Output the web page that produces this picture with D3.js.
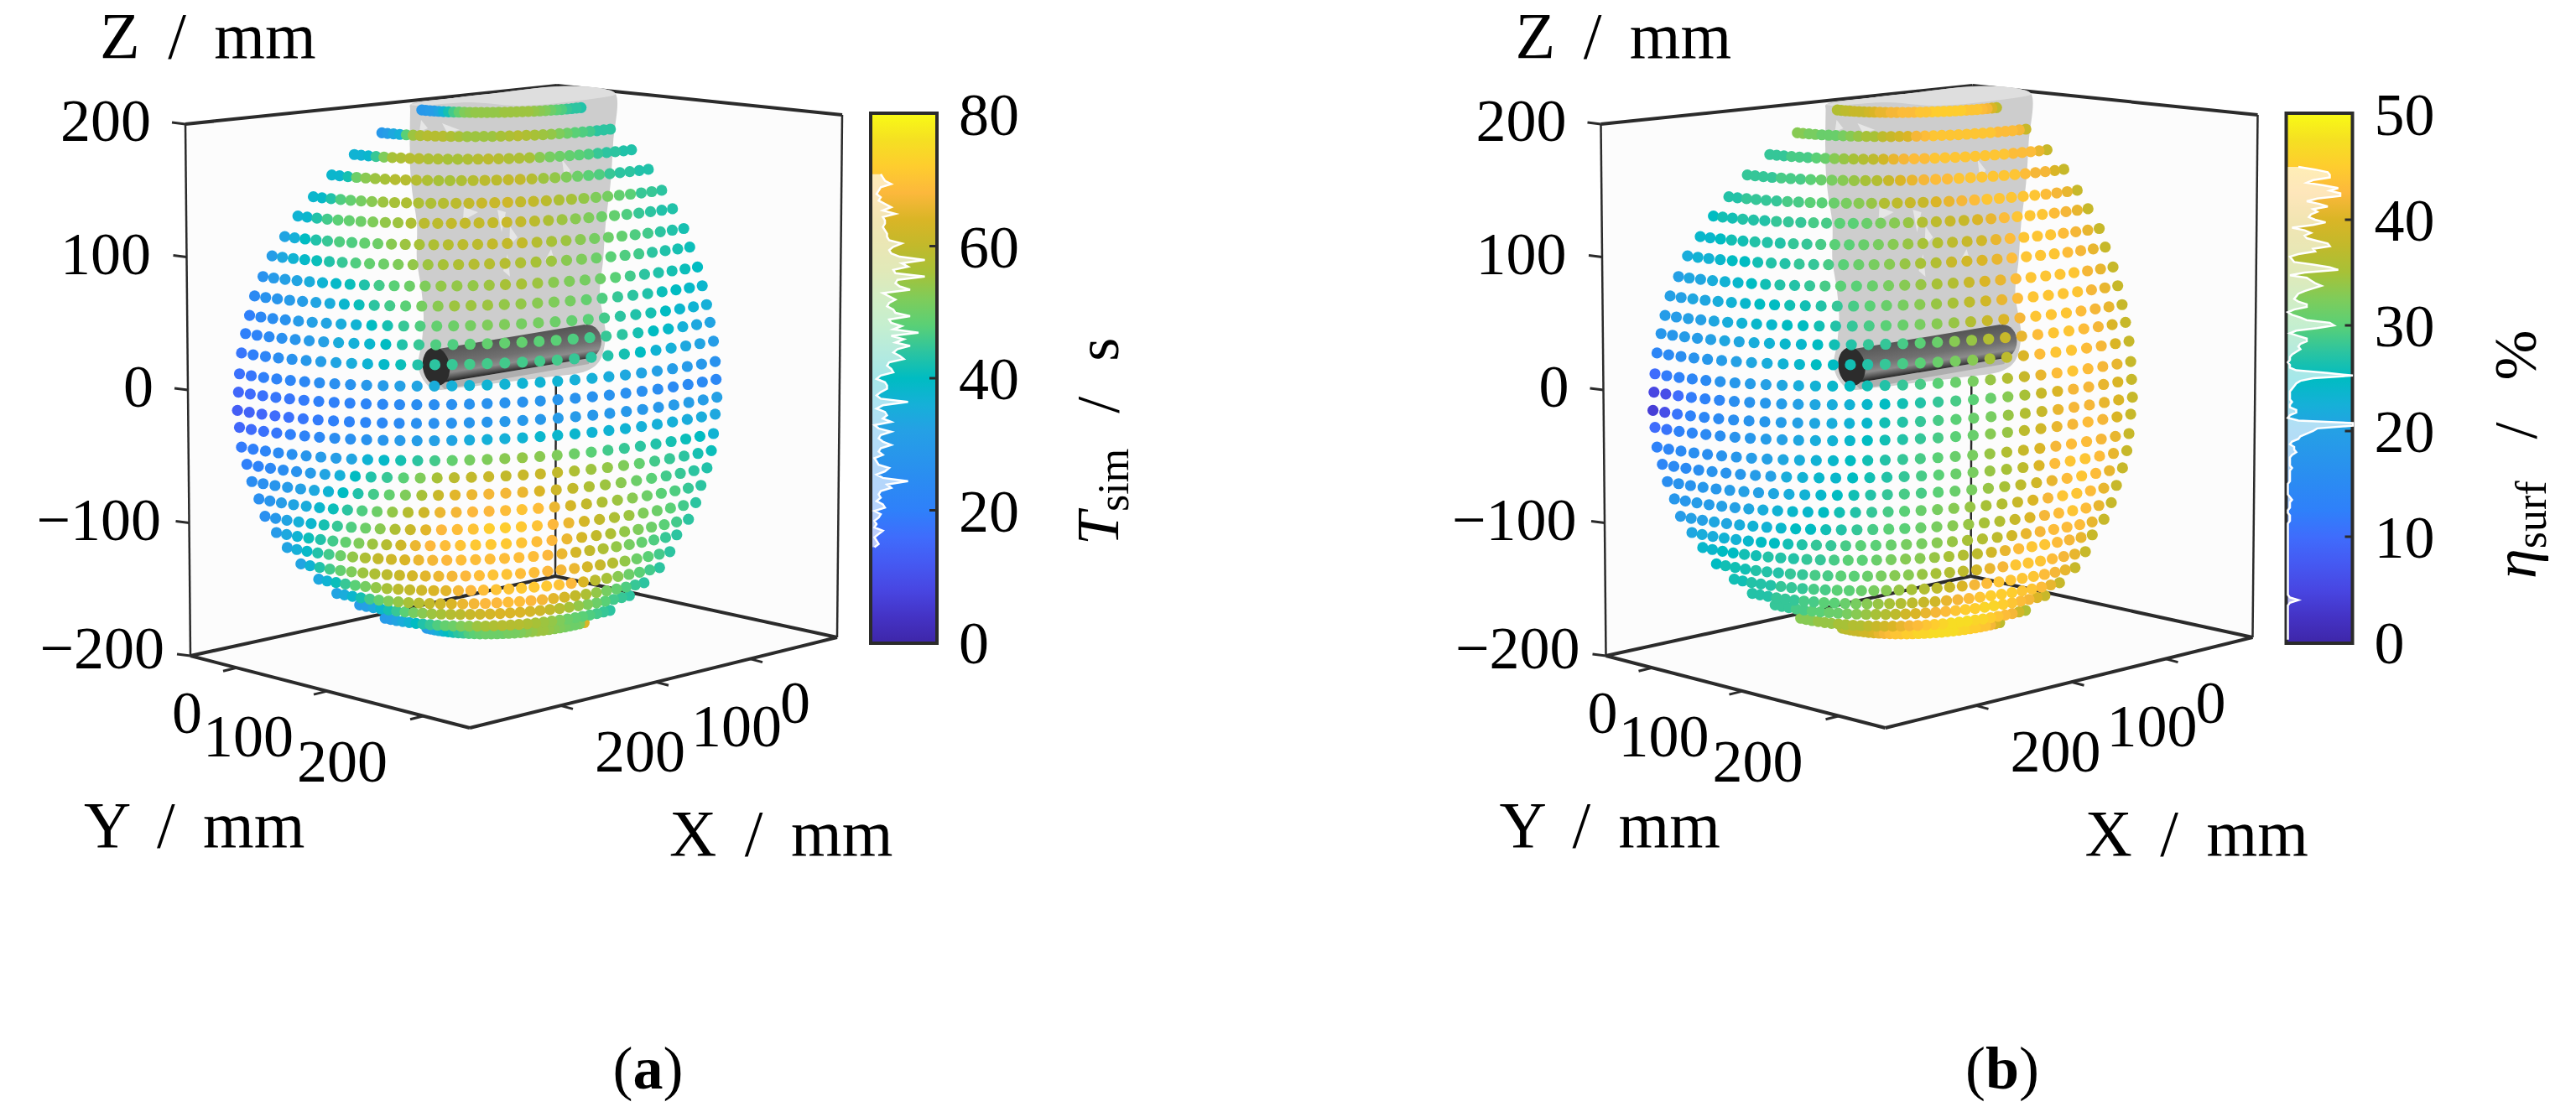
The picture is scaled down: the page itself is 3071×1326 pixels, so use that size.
<!DOCTYPE html>
<meta charset="utf-8">
<style>
	body {
		margin: 0;
		background: #fff;
	}

	text {
		font-family: "Liberation Serif", serif;
		font-size: 72px;
		fill: #000;
	}

	.axlabel {
		font-size: 78px;
		word-spacing: 14px;
	}

	.bartitle {
		word-spacing: 24px;
	}

	.edge {
		fill: none;
		stroke: #2b2b2b;
		stroke-width: 4px;
	}

	.inner {
		stroke-width: 2.5px;
	}

	.tick {
		stroke: #2b2b2b;
		stroke-width: 3px;
	}
</style>

<body>
	<script src="https://d3js.org/d3.v7.min.js"></script>
	<script>
		// rings of the sphere (mm)
		var ringZ = [209, 191, 174, 158, 141, 126, 110, 95, 79, 64, 49, 35, 20, 4, -10, -24, -37, -52, -65, -78, -91, -104, -116, -127, -139, -150, -160, -168, -177, -183];
		var ringRadius = [85, 122, 148, 169, 186, 200, 213, 223, 232, 239, 244, 248, 252, 254, 255, 256, 254, 252, 248, 243, 236, 230, 220, 208, 197, 182, 164, 144, 120, 84];
		var ringShift = [9, 7, 6, 5, 4, 3, 3, 1, 1, 0, 0, 0, 0, 0, 0, 0, 0, 0, 1, 1, 1, 1, 2, 1, 3, 5, 5, 7, 8, 12];

		var tSim = [
			[29, 29, 30, 31, 33, 37, 42, 46, 49, 52, 53, 54, 54, 54, 54, 54, 55, 55, 55, 55, 55, 54, 53, 52, 50, 48, 47, 45, 44, 44, 43],
			[29, 31, 34, 36, 48, 55, 57, 58, 58, 58, 57, 56, 55, 55, 55, 55, 56, 57, 58, 57, 56, 55, 54, 52, 50, 48, 47, 46, 44, 44, 44],
			[37, 37, 38, 45, 52, 56, 57, 58, 58, 57, 57, 56, 56, 57, 58, 59, 58, 57, 57, 56, 53, 51, 50, 49, 48, 47, 45, 44, 44, 43, 43],
			[38, 38, 42, 50, 53, 55, 56, 58, 58, 58, 57, 56, 56, 57, 58, 59, 59, 60, 60, 58, 55, 54, 52, 50, 48, 47, 45, 44, 44, 43, 43],
			[38, 39, 43, 47, 49, 51, 53, 55, 56, 57, 57, 57, 58, 59, 60, 61, 61, 62, 60, 60, 59, 57, 56, 54, 52, 51, 49, 48, 45, 45, 44],
			[37, 38, 43, 46, 48, 49, 50, 52, 54, 55, 57, 59, 59, 60, 60, 60, 60, 61, 60, 59, 57, 55, 53, 52, 50, 49, 47, 45, 44, 43, 43],
			[33, 36, 40, 43, 45, 47, 47, 49, 50, 53, 55, 56, 57, 58, 59, 59, 60, 60, 60, 58, 56, 55, 53, 51, 50, 49, 47, 46, 44, 43, 42],
			[31, 34, 37, 39, 41, 43, 45, 47, 49, 50, 52, 54, 55, 56, 57, 58, 58, 58, 57, 56, 55, 53, 52, 50, 48, 47, 46, 44, 43, 42, 41],
			[27, 30, 32, 33, 35, 37, 39, 41, 43, 46, 48, 50, 52, 54, 54, 54, 55, 56, 56, 55, 53, 52, 51, 50, 48, 46, 44, 43, 42, 41, 40],
			[24, 27, 28, 30, 31, 33, 35, 38, 41, 44, 46, 48, 51, 53, 55, 55, 55, 54, 54, 53, 52, 51, 49, 47, 45, 44, 43, 41, 40, 39, 38],
			[20, 23, 25, 27, 30, 32, 33, 35, 37, 40, 42, 45, 47, 49, 50, 51, 52, 52, 51, 51, 50, 49, 48, 46, 44, 43, 42, 40, 38, 37, 36],
			[20, 21, 24, 26, 28, 30, 32, 35, 36, 38, 40, 43, 45, 47, 47, 48, 49, 49, 49, 48, 48, 47, 46, 45, 44, 42, 40, 39, 36, 34, 33],
			[18, 20, 22, 25, 27, 29, 31, 33, 35, 37, 39, 41, 43, 44, 45, 46, 46, 46, 46, 46, 46, 45, 44, 43, 42, 40, 37, 36, 34, 33, 31],
			[17, 18, 20, 21, 22, 23, 25, 26, 27, 29, 30, 32, 33, 35, 36, 37, 37, 37, 37, 37, 37, 36, 36, 35, 34, 33, 32, 31, 30, 29, 27],
			[15, 16, 17, 18, 18, 19, 20, 20, 21, 22, 23, 24, 25, 25, 26, 27, 27, 27, 27, 28, 28, 27, 27, 27, 26, 26, 25, 24, 24, 24, 23],
			[13, 14, 15, 16, 17, 18, 19, 20, 21, 22, 23, 24, 26, 26, 27, 28, 28, 29, 29, 29, 30, 30, 29, 29, 29, 29, 29, 30, 31, 31, 32],
			[15, 16, 17, 18, 20, 21, 23, 25, 26, 27, 28, 30, 31, 32, 33, 35, 36, 36, 37, 38, 38, 38, 37, 37, 37, 36, 36, 36, 35, 35, 34],
			[19, 20, 22, 24, 26, 28, 30, 31, 33, 37, 39, 42, 44, 46, 49, 51, 52, 53, 54, 53, 52, 50, 48, 46, 45, 44, 43, 42, 41, 40, 37],
			[20, 21, 23, 25, 27, 30, 33, 36, 40, 43, 45, 48, 52, 56, 59, 60, 61, 60, 61, 61, 60, 57, 55, 54, 52, 49, 46, 45, 44, 42, 41],
			[25, 26, 28, 30, 32, 34, 37, 40, 43, 46, 49, 52, 56, 61, 65, 66, 67, 67, 66, 64, 62, 60, 57, 55, 53, 50, 48, 46, 45, 44, 43],
			[26, 28, 31, 33, 35, 38, 41, 44, 47, 50, 54, 58, 62, 66, 67, 68, 68, 69, 70, 69, 66, 63, 60, 57, 55, 53, 50, 48, 47, 45, 44],
			[26, 29, 33, 36, 38, 42, 45, 47, 50, 53, 57, 61, 65, 68, 69, 70, 72, 72, 71, 70, 68, 66, 63, 60, 57, 55, 52, 50, 48, 46, 44],
			[30, 34, 37, 41, 43, 46, 49, 52, 55, 58, 62, 66, 68, 69, 70, 71, 71, 71, 70, 69, 68, 66, 63, 60, 57, 54, 52, 50, 48, 46, 44],
			[33, 36, 39, 43, 46, 50, 54, 57, 60, 62, 64, 66, 67, 68, 69, 69, 69, 69, 69, 69, 68, 66, 63, 60, 57, 54, 51, 49, 47, 45, 44],
			[33, 37, 43, 46, 49, 52, 55, 57, 59, 61, 63, 65, 66, 67, 68, 69, 70, 70, 69, 69, 68, 67, 66, 63, 61, 58, 54, 50, 48, 46, 44],
			[34, 37, 41, 45, 48, 51, 54, 56, 59, 60, 62, 64, 65, 67, 68, 69, 70, 70, 71, 71, 71, 70, 68, 64, 59, 56, 53, 50, 48, 46, 44],
			[33, 35, 38, 42, 46, 49, 52, 54, 56, 58, 60, 62, 64, 66, 67, 68, 68, 69, 69, 68, 67, 65, 63, 60, 57, 54, 51, 49, 47, 45, 44],
			[31, 32, 34, 38, 42, 45, 48, 51, 53, 55, 56, 58, 59, 61, 62, 63, 64, 64, 64, 63, 62, 60, 58, 56, 54, 52, 50, 48, 46, 45, 44],
			[30, 31, 33, 35, 37, 40, 43, 45, 47, 49, 50, 52, 53, 55, 56, 57, 58, 58, 58, 57, 56, 55, 54, 52, 50, 49, 48, 47, 46, 45, 44],
			[30, 32, 34, 36, 38, 40, 42, 44, 45, 47, 48, 49, 50, 50, 50, 50, 51, 51, 52, 53, 54, 55, 55, 54, 53, 52, 51, 50, 50, 52, 64]
		];

		var etaSurf = [
			[36, 36, 37, 37, 38, 38, 38, 39, 40, 41, 41, 42, 42, 43, 43, 43, 44, 44, 45, 45, 45, 45, 45, 45, 44, 44, 44, 43, 42, 40, 37],
			[33, 33, 32, 32, 31, 31, 31, 32, 33, 34, 35, 35, 37, 38, 39, 40, 42, 43, 44, 44, 44, 44, 44, 44, 44, 44, 43, 43, 43, 42, 38],
			[28, 28, 28, 29, 29, 29, 30, 31, 33, 34, 35, 36, 37, 39, 41, 42, 43, 43, 44, 44, 44, 44, 44, 44, 44, 44, 43, 43, 43, 41, 38],
			[28, 28, 28, 28, 29, 29, 29, 30, 31, 32, 33, 34, 35, 36, 38, 40, 41, 42, 43, 43, 44, 44, 44, 44, 44, 44, 43, 42, 42, 40, 38],
			[27, 27, 28, 28, 28, 28, 29, 29, 30, 30, 31, 32, 33, 34, 36, 37, 38, 38, 40, 41, 42, 43, 44, 44, 44, 44, 44, 43, 42, 41, 38],
			[25, 26, 26, 27, 27, 27, 28, 28, 28, 29, 29, 30, 30, 31, 32, 33, 34, 36, 37, 38, 38, 40, 41, 43, 44, 44, 44, 43, 42, 41, 38],
			[24, 24, 25, 26, 26, 27, 27, 27, 28, 28, 29, 30, 30, 31, 32, 33, 34, 35, 36, 37, 38, 39, 41, 43, 44, 44, 44, 43, 42, 41, 38],
			[22, 23, 23, 24, 25, 25, 26, 27, 27, 28, 28, 29, 30, 31, 32, 33, 34, 35, 36, 38, 39, 40, 41, 43, 44, 44, 44, 43, 42, 41, 38],
			[20, 21, 21, 22, 23, 24, 25, 26, 27, 27, 28, 29, 30, 30, 31, 32, 33, 34, 35, 36, 38, 40, 41, 43, 44, 44, 44, 44, 42, 41, 38],
			[20, 20, 21, 21, 22, 23, 24, 25, 25, 26, 26, 27, 28, 29, 30, 31, 32, 33, 34, 35, 37, 39, 41, 43, 44, 44, 44, 44, 42, 41, 38],
			[19, 19, 20, 20, 21, 22, 23, 24, 24, 25, 25, 26, 27, 28, 29, 30, 31, 32, 33, 34, 36, 38, 40, 42, 44, 44, 44, 43, 42, 41, 38],
			[18, 18, 19, 19, 20, 21, 21, 22, 23, 24, 24, 25, 26, 27, 28, 28, 29, 30, 31, 33, 34, 36, 38, 41, 43, 44, 44, 43, 42, 40, 38],
			[14, 15, 16, 17, 18, 19, 20, 21, 22, 23, 24, 25, 25, 26, 27, 28, 29, 30, 31, 32, 33, 35, 37, 40, 43, 44, 44, 43, 42, 40, 38],
			[10, 12, 13, 14, 15, 17, 18, 19, 20, 21, 22, 23, 24, 25, 26, 27, 28, 29, 30, 31, 32, 34, 36, 38, 41, 43, 44, 43, 42, 41, 38],
			[5, 6, 10, 12, 13, 14, 16, 17, 18, 19, 20, 21, 22, 23, 24, 25, 26, 27, 28, 29, 30, 31, 33, 35, 38, 40, 42, 42, 41, 40, 38],
			[4, 6, 11, 13, 14, 15, 16, 17, 18, 19, 20, 21, 22, 23, 24, 26, 27, 28, 29, 30, 31, 32, 34, 36, 38, 41, 42, 42, 41, 40, 38],
			[10, 11, 13, 14, 15, 16, 17, 18, 19, 20, 21, 22, 23, 24, 25, 26, 27, 28, 29, 30, 31, 33, 34, 37, 39, 41, 42, 43, 42, 40, 38],
			[13, 14, 15, 16, 16, 17, 18, 19, 20, 21, 22, 23, 24, 25, 26, 27, 28, 29, 30, 31, 32, 34, 36, 38, 40, 42, 43, 43, 42, 41, 38],
			[14, 15, 15, 16, 17, 17, 18, 19, 20, 22, 23, 24, 24, 25, 26, 27, 28, 29, 30, 31, 32, 34, 35, 37, 40, 43, 44, 44, 43, 41, 38],
			[16, 17, 17, 18, 18, 19, 20, 20, 21, 22, 23, 24, 25, 26, 27, 28, 29, 29, 30, 31, 32, 34, 35, 37, 39, 41, 43, 44, 43, 41, 38],
			[18, 18, 19, 19, 20, 20, 21, 22, 23, 24, 24, 25, 26, 27, 28, 29, 30, 31, 32, 33, 34, 35, 36, 38, 40, 42, 44, 44, 43, 41, 38],
			[19, 20, 20, 21, 21, 22, 23, 23, 24, 25, 25, 26, 27, 28, 29, 30, 30, 31, 32, 33, 34, 35, 36, 38, 40, 42, 43, 44, 43, 41, 38],
			[21, 22, 22, 23, 23, 24, 25, 25, 26, 27, 28, 28, 29, 30, 30, 31, 32, 32, 33, 34, 35, 36, 37, 39, 41, 42, 43, 43, 43, 41, 38],
			[24, 24, 25, 25, 26, 26, 27, 27, 27, 28, 28, 29, 30, 30, 31, 32, 33, 33, 34, 35, 36, 37, 39, 41, 43, 44, 44, 43, 42, 41, 38],
			[25, 26, 26, 26, 27, 27, 27, 28, 28, 29, 29, 30, 30, 31, 32, 33, 33, 34, 35, 36, 37, 39, 41, 42, 44, 44, 44, 43, 42, 41, 38],
			[26, 26, 27, 27, 27, 28, 28, 28, 29, 29, 30, 30, 31, 32, 33, 34, 35, 36, 37, 38, 40, 42, 43, 44, 44, 44, 44, 43, 42, 41, 38],
			[27, 27, 27, 28, 28, 28, 29, 29, 30, 30, 31, 32, 33, 34, 35, 36, 37, 38, 39, 41, 42, 43, 44, 45, 45, 45, 44, 44, 43, 41, 38],
			[28, 28, 28, 29, 29, 30, 30, 31, 31, 32, 33, 34, 35, 36, 37, 39, 40, 41, 42, 43, 44, 45, 45, 46, 46, 45, 44, 43, 42, 40, 38],
			[33, 33, 33, 34, 34, 34, 35, 35, 36, 36, 37, 38, 39, 40, 41, 42, 43, 44, 45, 46, 47, 47, 47, 46, 46, 45, 44, 43, 42, 39, 36],
			[36, 37, 37, 38, 38, 39, 39, 40, 41, 42, 43, 44, 44, 45, 45, 46, 46, 47, 47, 47, 47, 47, 46, 46, 45, 45, 44, 44, 42, 40, 37]
		];

		// histogram counts on the colour bars, highest bin first
		var histTSim = [4, 5, 6, 9, 4, 3, 2, 4, 3, 6, 9, 5, 11, 5, 6, 6, 5, 6, 7, 7, 8, 14, 10, 8, 9, 13, 25, 14, 17, 10, 11, 25, 12, 11, 13, 18, 5, 8, 11, 8, 7, 10, 11, 18, 8, 9, 14, 10, 22, 9, 15, 11, 18, 12, 10, 13, 15, 8, 7, 9, 10, 4, 2, 6, 7, 7, 4, 2, 4, 17, 5, 2, 6, 7, 5, 9, 1, 3, 9, 4, 3, 5, 9, 4, 3, 5, 1, 2, 3, 8, 6, 2, 5, 17, 7, 9, 4, 3, 4, 2, 5, 6, 1, 4, 3, 1, 2, 1, 5, 3, 1, 2, 3, 1];
		var histEta = [5, 13, 19, 20, 20, 12, 9, 17, 24, 20, 25, 25, 14, 9, 15, 19, 12, 14, 11, 10, 13, 18, 12, 2, 8, 11, 8, 9, 14, 19, 20, 12, 13, 5, 1, 2, 3, 12, 20, 24, 8, 1, 9, 11, 13, 16, 12, 8, 5, 4, 3, 5, 9, 9, 3, 0, 2, 6, 9, 20, 22, 14, 4, 1, 5, 9, 9, 6, 5, 6, 4, 2, 1, 1, 0, 1, 1, 4, 19, 31, 12, 6, 4, 3, 2, 1, 1, 1, 1, 2, 1, 1, 4, 4, 1, 0, 5, 31, 31, 14, 12, 9, 6, 5, 2, 1, 3, 3, 4, 2, 1, 1, 1, 1, 2, 1, 1, 1, 1, 1, 0, 0, 0, 0, 0, 1, 2, 1, 1, 1, 0, 0, 1, 1, 1, 0, 0, 0, 0, 0, 0, 0, 0, 0, 0, 0, 0, 0, 0, 0, 0, 0, 0, 0, 0, 0, 0, 0, 0, 0, 0, 0, 0, 1, 5, 1, 0, 0, 0, 0, 0, 0, 0, 0, 0, 0, 0, 0, 0, 0];

		var colorStops = ["#3e26a8", "#4433c5", "#4846e2", "#4559f2", "#3f6cfc", "#2f80fa", "#2b8af3", "#2895ec", "#25a0e5", "#16b0d8", "#00bcc2", "#2cc4a0", "#5ad076", "#7fcc5a", "#a7c137", "#c2b92b", "#dab526", "#fcb83c", "#fecd2e", "#f5e022", "#f9fb15"];

		var zTicks = [-200, -100, 0, 100, 200];
		var xTicks = [0, 100, 200];
		var yTicks = [0, 100, 200];
		var ticksTSim = [0, 20, 40, 60, 80];
		var ticksEta = [0, 10, 20, 30, 40, 50];

		// box corners and gripper silhouette, page pixels of the left panel
		var boxLeftTop = [221, 148], boxBackTop = [664, 102], boxRightTop = [1004, 137];
		var boxLeft = [227, 782], boxBack = [662, 687], boxRight = [998, 760], boxFront = [560, 868];
		var gripperOutline = [[489, 125], [540, 117], [600, 110], [650, 104], [690, 103], [720, 106], [734, 112], [731, 170], [728, 217], [722, 267], [719, 310], [715, 350], [719, 377], [722, 400], [715, 430], [700, 442], [650, 450], [600, 456], [550, 462], [515, 463], [499, 440], [503, 407], [505, 377], [502, 343], [497, 310], [497, 267], [492, 233], [489, 200], [489, 130]];
		var gripperCap = [[489, 125], [540, 117], [600, 110], [650, 104], [690, 103], [720, 106], [734, 112], [690, 120], [620, 126], [560, 122], [500, 126]];
		var gripperFacets = [[[527, 147], [548, 155], [533, 158]], [[502, 143], [510, 153], [500, 157]], [[670, 190], [680, 203], [673, 213]], [[593, 250], [603, 253], [598, 277]], [[553, 247], [570, 253], [552, 263]], [[608, 270], [617, 283], [607, 293]], [[605, 303], [608, 330], [600, 323]], [[657, 297], [663, 317], [650, 310]]];

		var width = 3071, height = 1326, panelShift = 1687.5;

		var svg = d3.select("body").append("svg")
			.attr("width", width)
			.attr("height", height)
			.style("display", "block");

		var defs = svg.append("defs");

		var zScale = d3.scaleLinear().domain([-200, 200]).range([782, 148]);
		var ringX = d3.scaleLinear().domain([-300, 300]).range([120, 1062]);
		var ringTheta = d3.scaleLinear().domain([0, 30]).range([-50, 41]);
		var ringOpen = d3.scaleLinear().domain([-200, 200]).range([1.4, 0.6]);
		var xEdge = d3.scaleLinear().domain([0, 100, 200]).range([894, 782, 668]);
		var yEdge = d3.scaleLinear().domain([0, 100, 200]).range([282, 390, 505]);
		var edgeFrontRight = d3.scaleLinear().domain([boxRight[0], boxFront[0]]).range([boxRight[1], boxFront[1]]);
		var edgeFrontLeft = d3.scaleLinear().domain([boxLeft[0], boxFront[0]]).range([boxLeft[1], boxFront[1]]);

		var barY = d3.scaleLinear().domain([0, 1]).range([766, 136]);
		var barCount = d3.scaleLinear().domain([0, 30]).range([1040, 1115]);

		var colorT = d3.scaleLinear()
			.domain(colorStops.map(function(d, i) { return i / (colorStops.length - 1); }))
			.range(colorStops);

		var gradient = defs.append("linearGradient")
			.attr("id", "cmap")
			.attr("x1", 0).attr("x2", 0).attr("y1", 1).attr("y2", 0);
		gradient.selectAll("stop")
			.data(colorStops)
			.enter().append("stop")
			.attr("offset", function(d, i) { return i / (colorStops.length - 1); })
			.attr("stop-color", function(d) { return d; });

		var cylinderGradient = defs.append("linearGradient")
			.attr("id", "cylinder")
			.attr("gradientUnits", "userSpaceOnUse")
			.attr("x1", 607).attr("y1", 403).attr("x2", 613).attr("y2", 442);
		[[0, "#575757"], [0.5, "#707070"], [0.75, "#8c8c8c"], [0.9, "#555555"], [1, "#2a2a2a"]].forEach(function(s) {
			cylinderGradient.append("stop").attr("offset", s[0]).attr("stop-color", s[1]);
		});

		var outline = d3.line().curve(d3.curveCatmullRomClosed);

		function drawPanel(g, values, vMax, hist, histTop, histStep, ticks) {
			var pane = g.append("g").attr("fill", "#fcfcfc");
			[[boxLeftTop, boxBackTop, boxBack, boxLeft], [boxBackTop, boxRightTop, boxRight, boxBack], [boxLeft, boxBack, boxRight, boxFront]].forEach(function(p) {
				pane.append("polygon").attr("points", p.join(" "));
			});

			var edges = [[boxLeftTop, boxBackTop], [boxBackTop, boxRightTop], [boxLeft, boxBack], [boxBack, boxRight], [boxLeft, boxFront], [boxRight, boxFront]];
			edges.forEach(function(e) {
				g.append("path").attr("class", "edge").attr("d", d3.line()(e));
			});
			[[boxLeftTop, boxLeft], [boxRightTop, boxRight], [boxBackTop, boxBack]].forEach(function(e) {
				g.append("path").attr("class", "edge inner").attr("d", d3.line()(e));
			});

			// ticks and their labels
			g.selectAll(".ztick").data(zTicks).enter().append("line")
				.attr("class", "tick")
				.attr("x1", function(d) { return 221 + (200 - d) * 0.015; })
				.attr("x2", function(d) { return 205 + (200 - d) * 0.015; })
				.attr("y1", zScale)
				.attr("y2", function(d) { return zScale(d) - 2; });
			g.selectAll(".zlabel").data(zTicks).enter().append("text")
				.attr("text-anchor", "end")
				.attr("x", function(d) { return d < 0 ? (d == -200 ? 196 : 192) : (d == 0 ? 183 : 180); })
				.attr("y", function(d) { return zScale(d) + (d == -200 ? 15 : 20); })
				.text(function(d) { return d < 0 ? "\u2212" + (-d) : d; });

			g.selectAll(".xtick").data(xTicks).enter().append("line")
				.attr("class", "tick")
				.attr("x1", xEdge)
				.attr("x2", function(d) { return xEdge(d) + 15; })
				.attr("y1", function(d) { return edgeFrontRight(xEdge(d)); })
				.attr("y2", function(d) { return edgeFrontRight(xEdge(d)) + 4; });
			g.selectAll(".ytick").data(yTicks).enter().append("line")
				.attr("class", "tick")
				.attr("x1", yEdge)
				.attr("x2", function(d) { return yEdge(d) - 16; })
				.attr("y1", function(d) { return edgeFrontLeft(yEdge(d)); })
				.attr("y2", function(d) { return edgeFrontLeft(yEdge(d)) + 4; });

			g.selectAll(".xlabel").data(xTicks).enter().append("text")
				.attr("text-anchor", "end")
				.attr("x", function(d, i) { return [966, 932, 817][i]; })
				.attr("y", function(d, i) { return [862, 890, 920][i]; })
				.text(function(d) { return d; });
			g.selectAll(".ylabel").data(yTicks).enter().append("text")
				.attr("x", function(d, i) { return [205, 242, 354][i]; })
				.attr("y", function(d, i) { return [874, 902, 932][i]; })
				.text(function(d) { return d; });

			g.append("text").attr("class", "axlabel").attr("x", 119).attr("y", 69).text("Z / mm");
			g.append("text").attr("class", "axlabel").attr("x", 798).attr("y", 1020).text("X / mm");
			g.append("text").attr("class", "axlabel").attr("x", 100).attr("y", 1010).text("Y / mm");

			// gripper mesh
			g.append("path").attr("d", outline(gripperOutline)).attr("fill", "#cdcdcd");
			g.append("path").attr("d", outline(gripperCap)).attr("fill", "#dedede");
			g.selectAll(".facet").data(gripperFacets).enter().append("polygon")
				.attr("points", function(d) { return d.join(" "); })
				.attr("fill", "#e6e6e6");

			// cylinder held by the gripper
			g.append("path").attr("d", "M523,457L703,427L702,434L530,464Z").attr("fill", "#aeaeae");
			g.append("ellipse")
				.attr("cx", 700).attr("cy", 407).attr("rx", 17).attr("ry", 20)
				.attr("fill", "url(#cylinder)");
			g.append("polygon")
				.attr("points", "517,417 697,387 703,427 523,457")
				.attr("fill", "url(#cylinder)");
			g.append("ellipse")
				.attr("cx", 520).attr("cy", 437).attr("rx", 16).attr("ry", 23)
				.attr("transform", "rotate(-9 520 437)")
				.attr("fill", "#2c2c2c");

			// sphere points, far ones first
			var points = [];
			values.forEach(function(row, r) {
				row.forEach(function(v, i) {
					var t = ringTheta(i) * Math.PI / 180;
					var a = ringX(ringRadius[r]) - ringX(0);
					var open = ringOpen(ringZ[r]);
					points.push({
						x: ringX(ringShift[r] + ringRadius[r] * Math.sin(t)),
						y: zScale(ringZ[r]) + a * open * (0.177 * (Math.cos(t) - 1) - 0.04 * Math.sin(t)),
						depth: ringRadius[r] * Math.cos(t) * 0.97 + ringZ[r] * 0.26,
						v: v
					});
				});
			});
			points.sort(function(a, b) { return d3.ascending(a.depth, b.depth); });
			g.selectAll(".dot")
				.data(points)
				.enter().append("circle")
				.attr("class", "dot")
				.attr("r", 6.6)
				.attr("cx", function(d) { return d.x; })
				.attr("cy", function(d) { return d.y; })
				.style("fill", function(d) { return colorT(d.v / vMax); });

			// colour bar
			g.append("rect")
				.attr("x", 1038).attr("y", barY(1) - 1)
				.attr("width", 79).attr("height", barY(0) - barY(1) + 2)
				.attr("fill", "url(#cmap)")
				.attr("stroke", "#2b2b2b")
				.attr("stroke-width", 4);
			g.selectAll(".ctick").data(ticks.slice(1, -1)).enter().append("line")
				.attr("class", "tick")
				.attr("x1", 1108).attr("x2", 1116)
				.attr("y1", function(d) { return barY(d / vMax); })
				.attr("y2", function(d) { return barY(d / vMax); });
			g.selectAll(".clabel").data(ticks).enter().append("text")
				.attr("x", 1143)
				.attr("y", function(d) { return barY(d / vMax) + 25; })
				.text(function(d) { return d; });

			var histY = function(d, i) { return barY((histTop - i * histStep) / vMax); };
			g.append("path")
				.attr("d", d3.area().x0(barCount(0)).x1(function(d) { return barCount(d); }).y(histY)(hist))
				.attr("fill", "#fff")
				.attr("fill-opacity", 0.65);
			g.append("path")
				.attr("d", d3.line().x(function(d) { return barCount(d); }).y(histY)(hist))
				.attr("fill", "none")
				.attr("stroke", "#fff")
				.attr("stroke-width", 2.5);
		}

		var panelA = svg.append("g");
		drawPanel(panelA, tSim, 80, histTSim, 70.9, 0.5, ticksTSim);

		var panelB = svg.append("g").attr("transform", "translate(" + panelShift + ",0)");
		drawPanel(panelB, etaSurf, 50, histEta, 45, 0.25, ticksEta);

		// colour bar titles and panel captions
		var titleA = panelA.append("text")
			.attr("class", "bartitle")
			.attr("transform", "translate(1333,650) rotate(-90)");
		titleA.append("tspan").style("font-style", "italic").text("T");
		titleA.append("tspan").attr("dy", 12).style("font-size", "52px").text("sim");
		titleA.append("tspan").attr("dy", -12).text(" / s");

		var titleB = panelB.append("text")
			.attr("class", "bartitle")
			.style("word-spacing", "32px")
			.attr("transform", "translate(1335.5,690) rotate(-90)");
		titleB.append("tspan").style("font-style", "italic").text("\u03b7");
		titleB.append("tspan").attr("dy", 12).style("font-size", "52px").text("surf");
		titleB.append("tspan").attr("dy", -12).text(" / %");

		[["a", 772.5], ["b", 2387]].forEach(function(c) {
			var cap = svg.append("text")
				.attr("x", c[1]).attr("y", 1298)
				.attr("text-anchor", "middle");
			cap.append("tspan").text("(");
			cap.append("tspan").style("font-weight", "bold").text(c[0]);
			cap.append("tspan").text(")");
		});
	</script>
